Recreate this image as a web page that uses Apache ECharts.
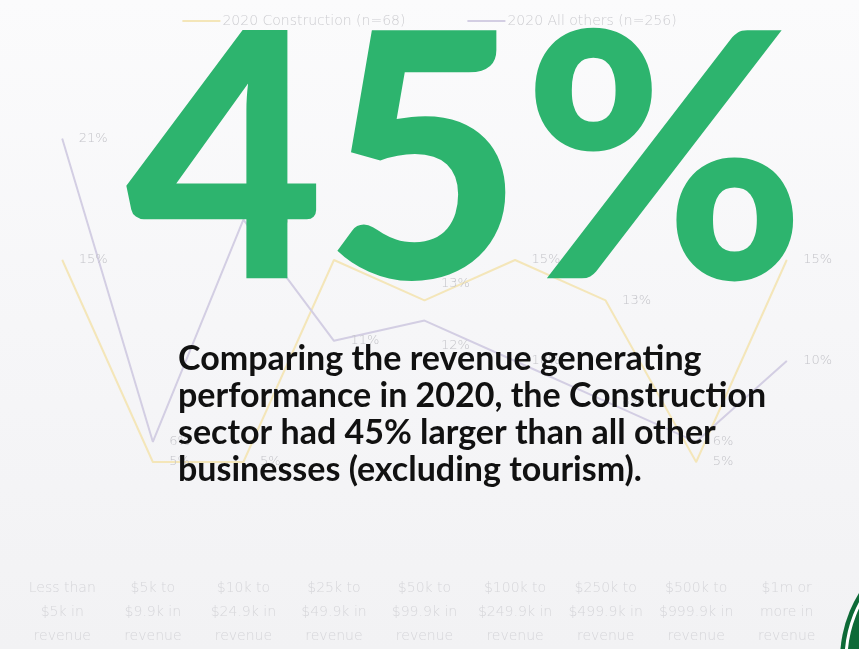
<!DOCTYPE html>
<html>
<head>
<meta charset="utf-8">
<script src="https://cdn.jsdelivr.net/npm/echarts@6/dist/echarts.min.js"></script>
<style>
  html, body { margin: 0; padding: 0; background: #f4f4f6; }
  #chart { width: 859px; height: 649px; }
</style>
</head>
<body>
<div id="chart"></div>
<script>
// Revenue bands (x axis)
const categories = [
  'Less than\n$5k in\nrevenue',
  '$5k to\n$9.9k in\nrevenue',
  '$10k to\n$24.9k in\nrevenue',
  '$25k to\n$49.9k in\nrevenue',
  '$50k to\n$99.9k in\nrevenue',
  '$100k to\n$249.9k in\nrevenue',
  '$250k to\n$499.9k in\nrevenue',
  '$500k to\n$999.9k in\nrevenue',
  '$1m or\nmore in\nrevenue'
];

// Share of respondents in each band, percent
const constructionName = '2020 Construction (n=68)';
const constructionValues = [15, 5, 5, 15, 13, 15, 13, 5, 15];

const othersName = '2020 All others (n=256)';
const othersValues = [21, 6, 17, 11, 12, 10, 8, 6, 10];

const headline = '45%';
const summaryLines = [
  'Comparing the revenue generating',
  'performance in 2020, the Construction',
  'sector had 45% larger than all other',
  'businesses (excluding tourism).'
];

const chart = echarts.init(document.getElementById('chart'), null, { renderer: 'canvas' });

const thinFont = 'DejaVu Sans';
const labelFont = { color: '#c4c4c9', fontSize: 13, fontFamily: thinFont, fontWeight: 200, position: 'right', distance: 16 };

// nudge the two labels in the crowded middle band apart vertically
function withLabels(values, nudge) {
  return values.map((v, i) => {
    const item = { value: v };
    if (nudge[i]) item.label = { offset: [0, nudge[i]] };
    return item;
  });
}

chart.setOption({
  backgroundColor: {
    type: 'linear', x: 0, y: 0, x2: 0, y2: 1,
    colorStops: [
      { offset: 0, color: '#fbfbfc' },
      { offset: 0.5, color: '#f6f6f8' },
      { offset: 1, color: '#f2f2f4' }
    ]
  },
  animation: false,
  legend: {
    top: 9,
    left: 'center',
    itemWidth: 38,
    itemHeight: 2,
    itemGap: 62,
    icon: 'rect',
    textStyle: { color: '#cdcdd1', fontSize: 14, fontFamily: thinFont, fontWeight: 200, padding: [0, 0, 0, -3] },
    data: [constructionName, othersName]
  },
  grid: { left: 17, right: 27, top: 58, bottom: 86, containLabel: false },
  xAxis: {
    type: 'category',
    data: categories,
    boundaryGap: true,
    axisLine: { show: false },
    axisTick: { show: false },
    axisLabel: {
      interval: 0,
      margin: 13,
      color: '#d6d6da',
      fontSize: 14,
      lineHeight: 24,
      fontFamily: thinFont,
      fontWeight: 200
    }
  },
  yAxis: {
    type: 'value',
    min: 0,
    max: 25,
    show: false,
    splitLine: { show: false }
  },
  series: [
    {
      name: constructionName,
      type: 'line',
      data: withLabels(constructionValues, { 4: -17 }),
      symbol: 'circle',
      symbolSize: 1,
      showSymbol: true,
      lineStyle: { color: '#f4e6b9', width: 2 },
      itemStyle: { color: '#f4e6b9' },
      label: Object.assign({ show: true, formatter: '{c}%' }, labelFont),
      z: 2
    },
    {
      name: othersName,
      type: 'line',
      data: withLabels(othersValues, { 4: 25 }),
      symbol: 'circle',
      symbolSize: 1,
      showSymbol: true,
      lineStyle: { color: '#d3cee3', width: 2 },
      itemStyle: { color: '#d3cee3' },
      label: Object.assign({ show: true, formatter: '{c}%' }, labelFont),
      z: 2
    }
  ],
  graphic: [
    {
      type: 'text',
      left: 126,
      top: -3,
      z: 100,
      style: {
        text: headline,
        fill: '#2db46e',
        font: '900 342px Lato'
      }
    },
    {
      type: 'text',
      left: 178,
      top: 341,
      z: 100,
      style: {
        text: summaryLines.join('\n'),
        fill: '#111111',
        font: '700 34px Lato',
        lineHeight: 37
      }
    },
    // corner seal
    {
      type: 'group',
      z: 100,
      children: [
        { type: 'circle', shape: { cx: 968, cy: 660, r: 128 }, style: { fill: '#0d6a37' } },
        { type: 'circle', shape: { cx: 968, cy: 660, r: 122 }, style: { fill: 'none', stroke: '#ffffff', lineWidth: 3 } }
      ]
    }
  ]
});
</script>
</body>
</html>
